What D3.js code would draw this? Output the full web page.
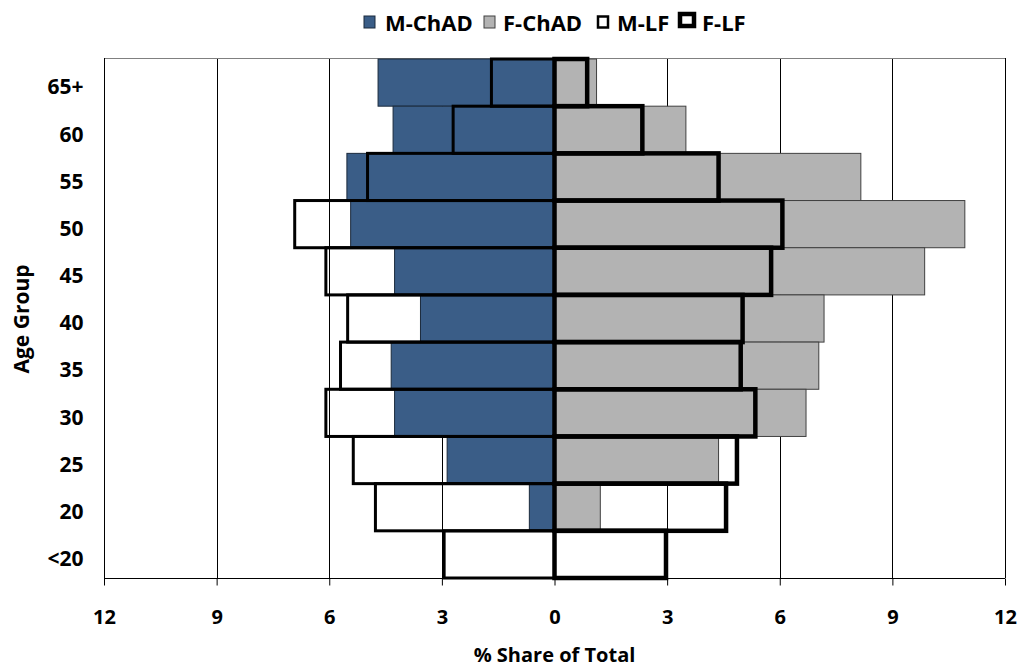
<!DOCTYPE html>
<html>
<head>
<meta charset="utf-8">
<script src="https://cdn.jsdelivr.net/npm/d3@7"></script>
<style>
  html, body { margin: 0; padding: 0; background: #fff; }
  svg { display: block; }
  text { font-family: "Open Sans", "DejaVu Sans", sans-serif; font-weight: 700; fill: #000; }
</style>
</head>
<body>
<svg id="chart" width="1021" height="669"></svg>
<script>
// ---- Data ----
const categories = ["65+", "60", "55", "50", "45", "40", "35", "30", "25", "20", "<20"];
const mChAD = [4.70, 4.30, 5.53, 5.43, 4.26, 3.57, 4.35, 4.26, 2.86, 0.67, 0];
const fChAD = [1.12, 3.50, 8.16, 10.93, 9.86, 7.18, 7.04, 6.70, 4.37, 1.22, 0];
const mLF   = [1.68, 2.70, 4.98, 6.92, 6.09, 5.51, 5.70, 6.09, 5.36, 4.77, 2.94];
const fLF   = [0.87, 2.34, 4.37, 6.07, 5.77, 5.01, 4.96, 5.35, 4.86, 4.57, 2.97];
const xTicks = [-12, -9, -6, -3, 0, 3, 6, 9, 12];
const seriesNames = ["M-ChAD", "F-ChAD", "M-LF", "F-LF"];

(function () {
// ---- Layout ----
const pLeft = 104, pRight = 1005, pTop = 59, pBottom = 578;
const svg = d3.select("#chart");

const x = d3.scaleLinear().domain([-12, 12]).range([pLeft, pRight]);
const y = d3.scaleBand().domain(categories).range([pTop, pBottom]).padding(0);

// gridlines
svg.append("g").selectAll("line")
  .data(xTicks.filter(d => d !== -12 && d !== 0 && d !== 12))
  .join("line")
  .attr("x1", d => Math.round(x(d)) + 0.5).attr("x2", d => Math.round(x(d)) + 0.5)
  .attr("y1", pTop).attr("y2", pBottom)
  .attr("stroke", "#000").attr("stroke-width", 1);

// plot frame top / right
svg.append("line").attr("x1", pLeft).attr("x2", pRight).attr("y1", pTop - 0.5).attr("y2", pTop - 0.5)
  .attr("stroke", "#808080").attr("stroke-width", 1.2);
svg.append("line").attr("x1", pRight + 0.5).attr("x2", pRight + 0.5).attr("y1", pTop - 1).attr("y2", pBottom)
  .attr("stroke", "#000").attr("stroke-width", 1);

// ChAD bars
svg.append("g").selectAll("rect")
  .data(categories.map((c, i) => ({c, v: mChAD[i]})).filter(d => d.v > 0))
  .join("rect")
  .attr("x", d => x(-d.v)).attr("width", d => x(0) - x(-d.v))
  .attr("y", d => y(d.c)).attr("height", y.bandwidth())
  .attr("fill", "#3A5D87").attr("stroke", "#1b2a3c").attr("stroke-width", 1);

svg.append("g").selectAll("rect")
  .data(categories.map((c, i) => ({c, v: fChAD[i]})).filter(d => d.v > 0))
  .join("rect")
  .attr("x", x(0)).attr("width", d => x(d.v) - x(0))
  .attr("y", d => y(d.c)).attr("height", y.bandwidth())
  .attr("fill", "#B3B3B3").attr("stroke", "#404040").attr("stroke-width", 1);

// LF outlines
svg.append("g").selectAll("rect")
  .data(categories.map((c, i) => ({c, v: mLF[i]})))
  .join("rect")
  .attr("x", d => x(-d.v)).attr("width", d => x(0) - x(-d.v))
  .attr("y", d => y(d.c)).attr("height", y.bandwidth())
  .attr("fill", "none").attr("stroke", "#000").attr("stroke-width", 3);

svg.append("g").selectAll("rect")
  .data(categories.map((c, i) => ({c, v: fLF[i]})))
  .join("rect")
  .attr("x", x(0)).attr("width", d => x(d.v) - x(0))
  .attr("y", d => y(d.c)).attr("height", y.bandwidth())
  .attr("fill", "none").attr("stroke", "#000").attr("stroke-width", 4.5);

// x axis
const xAxis = d3.axisBottom(x).tickValues(xTicks).tickSize(7).tickPadding(0)
  .tickFormat(d => Math.abs(d));
const gx = svg.append("g").attr("transform", `translate(0,${pBottom + 0.5})`).call(xAxis);
gx.select(".domain").attr("stroke", "#000").attr("d", `M${pLeft},0H${pRight}`);
gx.selectAll(".tick line").attr("stroke", "#000");
gx.selectAll(".tick text").attr("y", 45).attr("dy", null)
  .style("font-size", "20px").style("font-family", "'Open Sans', sans-serif").style("font-weight", 700);

// y axis
const yAxis = d3.axisLeft(y).tickSize(0).tickPadding(21);
const gy = svg.append("g").attr("transform", `translate(${pLeft + 0.5},0)`).call(yAxis);
gy.select(".domain").attr("stroke", "#000").attr("d", `M0,${pTop - 1}V${pBottom + 7}`);
gy.selectAll(".tick text").attr("dy", "0.32em").attr("y", 5)
  .style("font-size", "21px").style("font-family", "'Open Sans', sans-serif").style("font-weight", 700);

// axis titles
svg.append("text").attr("x", x(0)).attr("y", 662).attr("text-anchor", "middle")
  .style("font-size", "20px").text("% Share of Total");
svg.append("text").attr("transform", "translate(29,319) rotate(-90)").attr("text-anchor", "middle")
  .style("font-size", "21px").text("Age Group");

// legend
const legendItems = [
  {name: seriesNames[0], sx: 364, sy: 16, sw: 11, sh: 12, fill: "#3A5D87", stroke: "#1b2a3c", swid: 1, tx: 385},
  {name: seriesNames[1], sx: 484, sy: 16, sw: 11, sh: 12, fill: "#B3B3B3", stroke: "#404040", swid: 1, tx: 503},
  {name: seriesNames[2], sx: 598, sy: 16.5, sw: 10, sh: 11, fill: "#fff", stroke: "#000", swid: 2.5, tx: 617},
  {name: seriesNames[3], sx: 680, sy: 14, sw: 14, sh: 12, fill: "#fff", stroke: "#000", swid: 4.5, tx: 702}
];
const lg = svg.append("g");
lg.selectAll("rect").data(legendItems).join("rect")
  .attr("x", d => d.sx).attr("y", d => d.sy).attr("width", d => d.sw).attr("height", d => d.sh)
  .attr("fill", d => d.fill).attr("stroke", d => d.stroke).attr("stroke-width", d => d.swid);
lg.selectAll("text").data(legendItems).join("text")
  .attr("x", d => d.tx).attr("y", 31).style("font-size", "22px").text(d => d.name);
})();
</script>
</body>
</html>
